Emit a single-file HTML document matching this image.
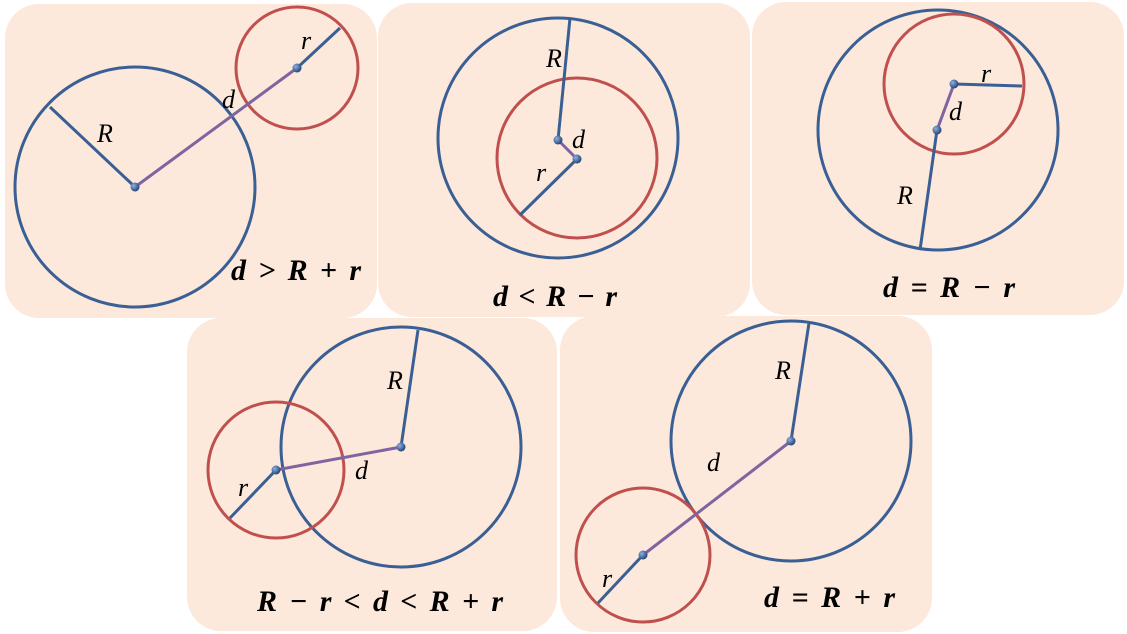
<!DOCTYPE html>
<html><head><meta charset="utf-8"><style>
html,body{margin:0;padding:0;background:#fff;}
svg{display:block}
text{font-family:"Liberation Serif",serif;font-style:italic;fill:#000}
.f{font-weight:bold;font-size:30px}
.l{font-size:26px}
</style></head><body>
<svg width="1127" height="634" viewBox="0 0 1127 634" xmlns="http://www.w3.org/2000/svg">
<defs>
<radialGradient id="g" cx="0.35" cy="0.35" r="0.7"><stop offset="0" stop-color="#8fb0e0"/><stop offset="1" stop-color="#1f3f73"/></radialGradient>
</defs>
<g fill="#fce9db">
<rect x="5" y="4" width="372" height="314" rx="34"/>
<rect x="378" y="3" width="372" height="314" rx="34"/>
<rect x="752" y="2" width="372" height="313" rx="34"/>
<rect x="187" y="318" width="370" height="313" rx="34"/>
<rect x="560" y="316" width="372" height="316" rx="34"/>
</g>
<g fill="none" stroke-width="3">
<circle cx="135" cy="187" r="120" stroke="#3a5f94"/>
<circle cx="297" cy="68" r="61" stroke="#c0504d"/>
<line x1="135" y1="187" x2="50" y2="107" stroke="#3a5f94"/>
<line x1="297" y1="68" x2="340" y2="28" stroke="#3a5f94"/>
<line x1="135" y1="187" x2="297" y2="68" stroke="#8064a2"/>
<circle cx="558" cy="138" r="120" stroke="#3a5f94"/>
<circle cx="577" cy="158" r="80" stroke="#c0504d"/>
<line x1="558" y1="140" x2="570" y2="18" stroke="#3a5f94"/>
<line x1="577" y1="159" x2="520" y2="215" stroke="#3a5f94"/>
<line x1="558" y1="140" x2="577" y2="159" stroke="#8064a2"/>
<circle cx="938" cy="130" r="120" stroke="#3a5f94"/>
<circle cx="954" cy="84" r="70" stroke="#c0504d"/>
<line x1="954" y1="84" x2="1022" y2="86" stroke="#3a5f94"/>
<line x1="937" y1="130" x2="920" y2="250" stroke="#3a5f94"/>
<line x1="937" y1="130" x2="954" y2="84" stroke="#8064a2"/>
<circle cx="401" cy="447" r="120" stroke="#3a5f94"/>
<circle cx="276" cy="470" r="68" stroke="#c0504d"/>
<line x1="401" y1="447" x2="418" y2="330" stroke="#3a5f94"/>
<line x1="276" y1="470" x2="230" y2="518" stroke="#3a5f94"/>
<line x1="276" y1="470" x2="401" y2="447" stroke="#8064a2"/>
<circle cx="791" cy="441" r="120" stroke="#3a5f94"/>
<circle cx="643" cy="555" r="67" stroke="#c0504d"/>
<line x1="791" y1="441" x2="809" y2="323" stroke="#3a5f94"/>
<line x1="643" y1="555" x2="598" y2="603" stroke="#3a5f94"/>
<line x1="643" y1="555" x2="791" y2="441" stroke="#8064a2"/>
</g>
<g fill="url(#g)">
<circle cx="135" cy="187" r="4.5"/><circle cx="297" cy="68" r="4.5"/>
<circle cx="558" cy="140" r="4.5"/><circle cx="577" cy="159" r="4.5"/>
<circle cx="937" cy="130" r="4.5"/><circle cx="954" cy="84" r="4.5"/>
<circle cx="401" cy="447" r="4.5"/><circle cx="276" cy="470" r="4.5"/>
<circle cx="791" cy="441" r="4.5"/><circle cx="643" cy="555" r="4.5"/>
</g>
<g class="l">
<text x="97" y="142">R</text><text x="222" y="108">d</text><text x="301" y="49">r</text>
<text x="546" y="67">R</text><text x="572" y="148">d</text><text x="536" y="181">r</text>
<text x="981" y="82">r</text><text x="949" y="120">d</text><text x="897" y="204">R</text>
<text x="387" y="389">R</text><text x="355" y="479">d</text><text x="238" y="496">r</text>
<text x="775" y="379">R</text><text x="707" y="471">d</text><text x="602" y="587">r</text>
</g>
<g class="f">
<text x="231" y="280" textLength="130" lengthAdjust="spacing">d &gt; R + r</text>
<text x="493" y="306" textLength="124" lengthAdjust="spacing">d &lt; R − r</text>
<text x="883" y="297" textLength="132" lengthAdjust="spacing">d = R − r</text>
<text x="257" y="611" textLength="246" lengthAdjust="spacing">R − r &lt; d &lt; R + r</text>
<text x="764" y="607" textLength="131" lengthAdjust="spacing">d = R + r</text>
</g>
</svg>
</body></html>
